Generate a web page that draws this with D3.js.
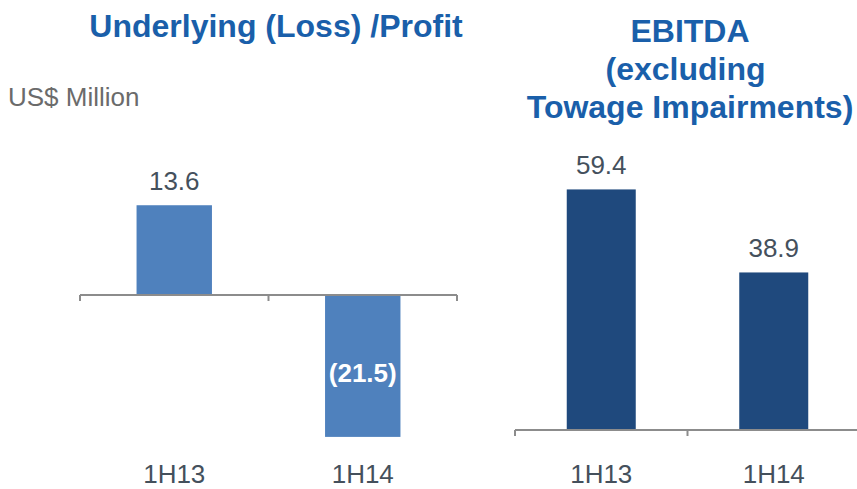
<!DOCTYPE html>
<html>
<head>
<meta charset="utf-8">
<script src="https://cdn.jsdelivr.net/npm/d3@7"></script>
<style>
  body { margin: 0; background: #fff; }
  svg { font-family: "Liberation Sans", Arial, sans-serif; }
</style>
</head>
<body>
<svg id="chart" width="857" height="489"></svg>
<script>
const categories = ['1H13', '1H14'];
const profitValues = [13.6, -21.5];
const profitLabels = ['13.6', '(21.5)'];
const ebitdaValues = [59.4, 38.9];
const ebitdaLabels = ['59.4', '38.9'];

const svg = d3.select('#chart');
const titleColor = '#1a5faa';
const axisColor = '#8c8c8c';
const textColor = '#44505c';

// titles
svg.append('text')
  .attr('x', 276).attr('y', 37)
  .attr('text-anchor', 'middle')
  .attr('font-size', 32).attr('font-weight', 'bold')
  .attr('fill', titleColor)
  .text('Underlying (Loss) /Profit');

const rightTitle = ['EBITDA', '(excluding ', 'Towage Impairments)'];
svg.append('g').selectAll('text')
  .data(rightTitle)
  .enter().append('text')
  .attr('x', 690)
  .attr('y', (d, i) => 42 + i * 38)
  .attr('text-anchor', 'middle')
  .attr('font-size', 32).attr('font-weight', 'bold')
  .attr('fill', titleColor)
  .style('white-space', 'pre')
  .text(d => d);

svg.append('text')
  .attr('x', 8).attr('y', 106)
  .attr('font-size', 26)
  .attr('fill', '#6b6b6b')
  .text('US$ Million');

function drawBars(opts) {
  const x = d3.scaleBand().domain(categories).range(opts.xRange);
  const y = d3.scaleLinear().domain(opts.yDomain).range(opts.yRange);
  const g = svg.append('g');
  const bw = x.bandwidth();

  g.selectAll('rect')
    .data(opts.values)
    .enter().append('rect')
    .attr('x', (d, i) => x(categories[i]) + bw * 0.3)
    .attr('width', bw * 0.4)
    .attr('y', d => Math.min(y(0), y(d)))
    .attr('height', d => Math.abs(y(d) - y(0)))
    .attr('fill', opts.color);

  // axis at zero
  const axis = g.append('g')
    .attr('transform', `translate(0,${y(0)})`)
    .call(d3.axisBottom(x).tickSize(0).tickFormat(''));
  axis.select('.domain').remove();
  axis.append('line')
    .attr('x1', opts.xRange[0]).attr('x2', opts.xRange[1])
    .attr('stroke', axisColor).attr('stroke-width', 2);
  const edges = categories.map(c => x(c)).concat([opts.xRange[1]]);
  axis.selectAll('.edge')
    .data(edges)
    .enter().append('line')
    .attr('x1', d => d).attr('x2', d => d)
    .attr('y1', 0).attr('y2', 6)
    .attr('stroke', axisColor).attr('stroke-width', 2);

  // value labels
  g.selectAll('.val')
    .data(opts.values)
    .enter().append('text')
    .attr('x', (d, i) => x(categories[i]) + bw / 2)
    .attr('y', d => d >= 0 ? y(d) - 15 : (y(0) + y(d)) / 2 + 16)
    .attr('text-anchor', 'middle')
    .attr('font-size', 26)
    .attr('font-weight', d => d >= 0 ? 'normal' : 'bold')
    .attr('fill', d => d >= 0 ? textColor : '#ffffff')
    .text((d, i) => opts.labels[i]);

  // category labels
  g.selectAll('.cat')
    .data(categories)
    .enter().append('text')
    .attr('x', d => x(d) + bw / 2)
    .attr('y', 483)
    .attr('text-anchor', 'middle')
    .attr('font-size', 26)
    .attr('fill', textColor)
    .text(d => d);
}

drawBars({
  values: profitValues, labels: profitLabels,
  xRange: [80, 457], yDomain: [-25, 20], yRange: [460, 163],
  color: '#4f81bd'
});

drawBars({
  values: ebitdaValues, labels: ebitdaLabels,
  xRange: [515, 860], yDomain: [0, 65], yRange: [430, 166.75],
  color: '#1f497d'
});
</script>
</body>
</html>
